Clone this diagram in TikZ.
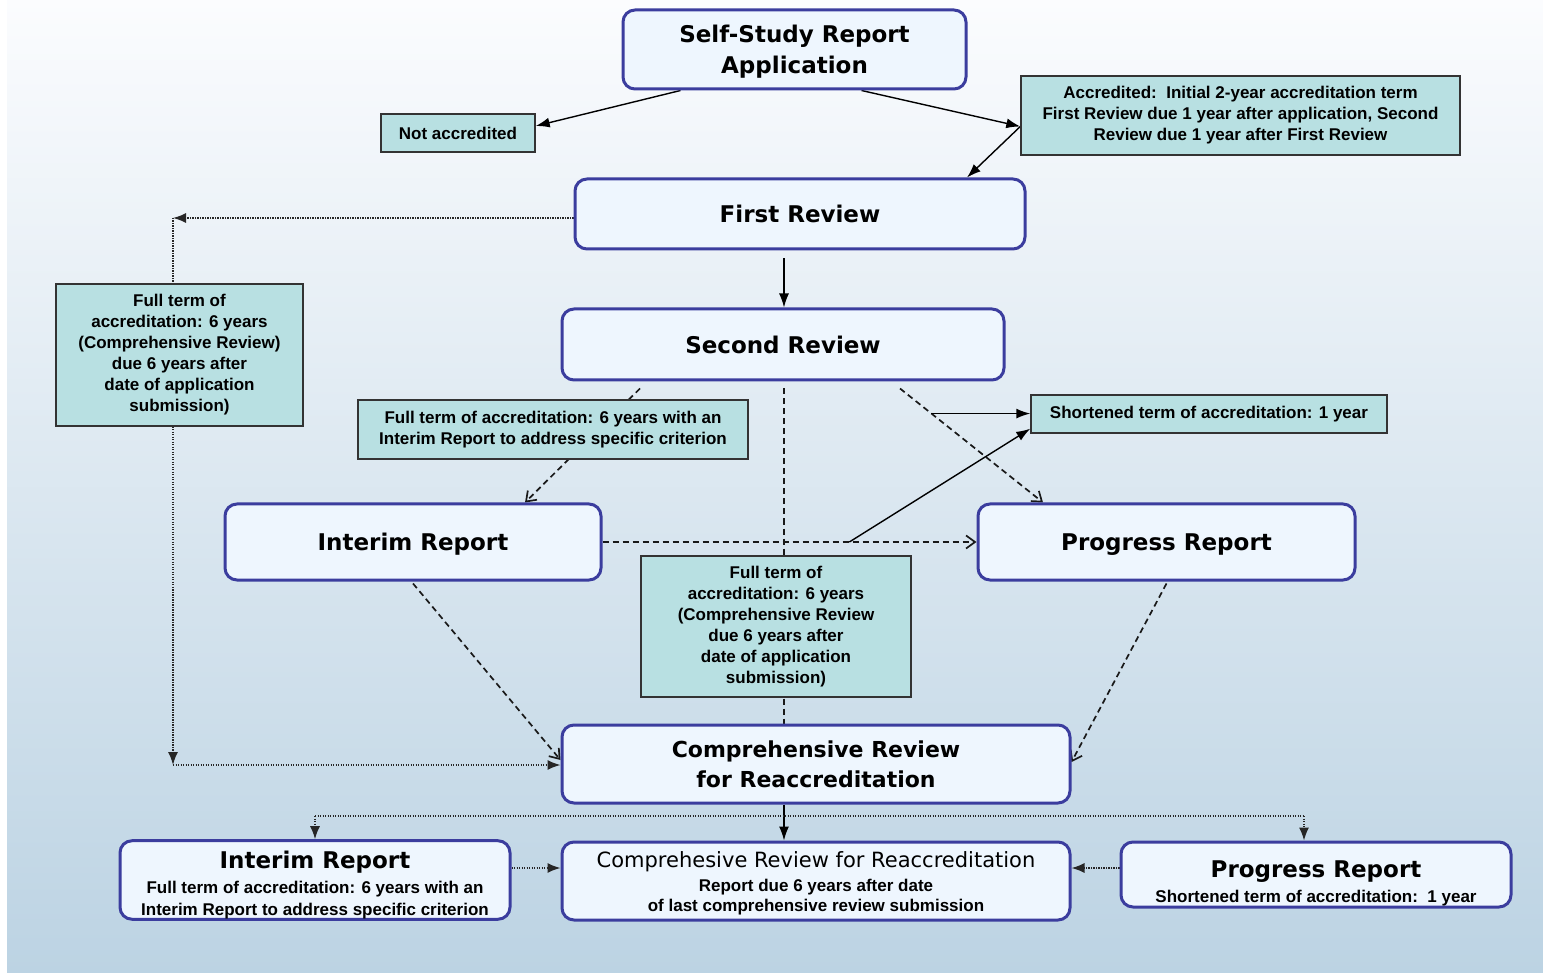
\documentclass[tikz,border=0pt]{standalone}
\usepackage{fontspec}
\newfontfamily\boxfont{DejaVu Sans}
\newfontfamily\notefont{Liberation Sans}
\usetikzlibrary{arrows.meta,calc}

\definecolor{boxblue}{HTML}{3B3D9E}
\definecolor{boxfill}{HTML}{EEF6FE}
\definecolor{notefill}{HTML}{B8E0E2}
\definecolor{bgtop}{HTML}{FBFCFE}
\definecolor{bgbottom}{HTML}{BCD3E3}

\newcommand{\notetext}{\notefont\bfseries\fontsize{17}{21}\selectfont}

\pgfdeclarelayer{background}
\pgfdeclarelayer{lines}
\pgfsetlayers{background,lines,main}

\tikzset{
  mainbox/.style={draw=boxblue, line width=3pt, fill=boxfill, rounded corners=12pt,
    align=center, inner sep=0pt, font=\boxfont\bfseries\fontsize{23}{31}\selectfont},
  notebox/.style={draw=black!80, line width=1.4pt, fill=notefill,
    align=center, inner sep=0pt, font=\notetext},
  solidarrow/.style={-{Latex[length=14pt,width=10pt]}, line width=1.4pt},
  dashline/.style={dash pattern=on 6pt off 4pt, line width=1.7pt, black!90},
  dasharrow/.style={dashline, -{Straight Barb[length=9pt,width=13pt]}},
  dotline/.style={dash pattern=on 1.3pt off 1.2pt, line width=1.5pt, black!85},
  dotarrow/.style={dotline, -{Latex[length=13pt,width=10pt]}},
}

\begin{document}
\begin{tikzpicture}[x=1pt, y=-1pt]
		\useasboundingbox (0,0) rectangle (1543,973);

		% Sfondo
		\begin{pgfonlayer}{background}
			\fill[white] (0,0) rectangle (1543,973);
			\shade[top color=bgtop, bottom color=bgbottom] (7,0) rectangle (1543,973);
		\end{pgfonlayer}

		% Fasi principali
		\node[mainbox, minimum width=343pt, minimum height=79pt] (ssr) at (794.5,49.5) {\rule{0pt}{21pt}Self-Study Report\\Application};
		\node[mainbox, minimum width=450pt, minimum height=70pt] (first) at (800,214) {First Review};
		\node[mainbox, minimum width=442pt, minimum height=71pt] (second) at (783,344.5) {Second Review};
		\node[mainbox, minimum width=376pt, minimum height=76pt] (interim) at (413,542) {\rule{0pt}{22pt}Interim Report};
		\node[mainbox, minimum width=377pt, minimum height=76pt] (progress) at (1166.5,542) {\rule{0pt}{22pt}Progress Report};
		\node[mainbox, minimum width=508pt, minimum height=78pt,
			font=\boxfont\bfseries\fontsize{22}{30}\selectfont] (comp) at (816,764) {Comprehensive Review\\for Reaccreditation};

		% Fasi finali
		\node[mainbox, minimum width=390pt, minimum height=76pt,
			font=\boxfont\bfseries\fontsize{23}{25}\selectfont] (binterim) at (315,880)
			{\rule{0pt}{28pt}Interim Report\\\notetext Full term of accreditation: 6 years with an\\[-3pt]\notetext Interim Report to address specific criterion};
		\node[mainbox, minimum width=508pt, minimum height=78pt,
			font=\boxfont\fontsize{21}{24}\selectfont] (bcomp) at (816,881)
			{\rule{0pt}{21pt}Comprehesive Review for Reaccreditation\\\notetext Report due 6 years after date\\[-4pt]\notetext of last comprehensive review submission};
		\node[mainbox, minimum width=390pt, minimum height=65pt,
			font=\boxfont\bfseries\fontsize{23}{25}\selectfont] (bprogress) at (1316,874.5)
			{\rule{0pt}{34pt}Progress Report\\\notetext Shortened term of accreditation:\ \ 1 year};

		% Note
		\node[notebox, minimum width=154pt, minimum height=38pt] (notacc) at (458,133) {Not accredited};
		\node[notebox, minimum width=439pt, minimum height=79pt] (acc) at (1240.5,115.5)
			{Accredited:\ \ Initial 2-year accreditation term\\First Review due 1 year after application, Second\\Review due 1 year after First Review};
		\node[notebox, minimum width=247pt, minimum height=142pt] (fullleft) at (179.5,355)
			{Full term of\\accreditation: 6 years\\(Comprehensive Review)\\due 6 years after\\date of application\\submission)};
		\node[notebox, minimum width=390pt, minimum height=59pt] (fullint) at (553,429.5)
			{Full term of accreditation: 6 years with an\\Interim Report to address specific criterion};
		\node[notebox, minimum width=356pt, minimum height=38pt] (short) at (1209,414) {Shortened term of accreditation: 1 year};
		\node[notebox, minimum width=270pt, minimum height=141pt] (fullmid) at (776,626.5)
			{Full term of\\accreditation: 6 years\\(Comprehensive Review\\due 6 years after\\date of application\\submission)};

		% Collegamenti
		\begin{pgfonlayer}{lines}
			\draw[solidarrow] ($(ssr.south)+(-114,0)$) -- ([yshift=7pt]notacc.east);
			\coordinate (accjoin) at ([yshift=-11pt]acc.west);
			\draw[solidarrow] ($(ssr.south)+(67,0)$) -- (accjoin);
			\draw[solidarrow] (accjoin) -- ($(first.north)+(167,0)$);

			\coordinate (midtop) at ($(second.south)+(1,7)$);
			\draw[solidarrow] (midtop |- first.south) ++(0,8) -- (midtop |- second.north);

			% ramo sinistro
			\coordinate (cornera) at (173,218);
			\coordinate (cornerb) at (173,765);
			\draw[dotarrow] ([yshift=-4pt]first.west) -- (cornera);
			\draw[dotline] (cornera) -- (cornera |- fullleft.north);
			\draw[dotarrow] (cornera |- fullleft.south) -- (cornerb);
			\draw[dotarrow] (cornerb) -- (cornerb -| comp.west);

			% dalla seconda revisione
			\draw[dasharrow] ($(second.south)+(-143,7)$) -- ($(interim.north)+(112,0)$);
			\draw[dashline] (midtop) -- (midtop |- comp.north);
			\draw[dasharrow] ($(second.south)+(117,7)$) -- coordinate[pos=0.22] (shortjoin) ($(progress.north)+(-123.5,0)$);
			\draw[solidarrow] (shortjoin) -- (shortjoin -| short.west);
			\draw[dasharrow] (interim.east) -- coordinate[pos=0.66] (progjoin) (progress.west);
			\draw[solidarrow] (progjoin) -- ($(short.south west)+(0,-5)$);
			\draw[dasharrow] ($(interim.south)+(0,2)$) -- ([yshift=4pt]comp.west);
			\draw[dasharrow] ($(progress.south)+(0,2)$) -- ([yshift=2pt]comp.east);

			% verso le fasi finali
			\coordinate (split) at (midtop |- comp.south);
			\draw[solidarrow] (split) -- (split |- bcomp.north);
			\coordinate (splitl) at (315,816);
			\coordinate (splitr) at (1304,816);
			\draw[dotline] (splitl) -- (splitr);
			\draw[dotarrow] (splitl) -- (splitl |- binterim.north);
			\draw[dotarrow] (splitr) -- (splitr |- bprogress.north);
			\draw[dotarrow] ([yshift=12pt]binterim.east) -- ([yshift=12pt]binterim.east -| bcomp.west);
			\draw[dotarrow] ([yshift=6.5pt]bprogress.west) -- ([yshift=6.5pt]bprogress.west -| bcomp.east);
		\end{pgfonlayer}
	\end{tikzpicture}
\end{document}
